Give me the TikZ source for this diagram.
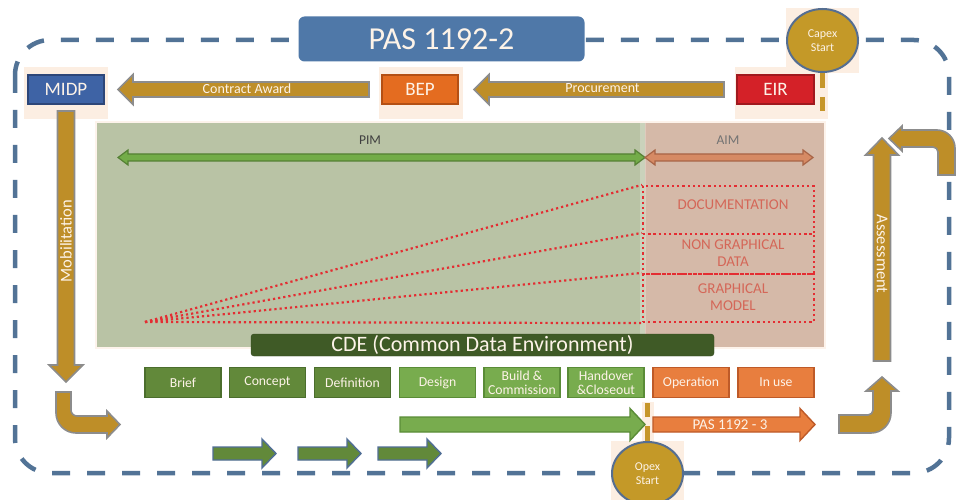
\documentclass[tikz,border=0pt]{standalone}
\usepackage{fontspec}
\setmainfont{Carlito}
\usetikzlibrary{shapes.geometric}

\definecolor{frameblue}{RGB}{82,115,150}
\definecolor{titleblue}{RGB}{79,120,168}
\definecolor{cream}{RGB}{253,243,232}
\definecolor{peach}{RGB}{252,238,226}
\definecolor{gold}{RGB}{190,142,40}
\definecolor{goldline}{RGB}{198,150,42}
\definecolor{arrowgray}{RGB}{140,140,140}
\definecolor{midpblue}{RGB}{62,99,165}
\definecolor{midpedge}{RGB}{45,70,120}
\definecolor{beporange}{RGB}{228,108,32}
\definecolor{bepedge}{RGB}{180,80,20}
\definecolor{eirred}{RGB}{212,33,40}
\definecolor{eiredge}{RGB}{160,25,30}
\definecolor{pimpanel}{RGB}{185,195,165}
\definecolor{aimpanel}{RGB}{213,185,168}
\definecolor{pimgreen}{RGB}{115,172,72}
\definecolor{pimedge}{RGB}{85,128,52}
\definecolor{aimorange}{RGB}{214,138,100}
\definecolor{aimedge}{RGB}{168,100,70}
\definecolor{dotred}{RGB}{228,45,50}
\definecolor{infored}{RGB}{212,103,88}
\definecolor{cdegreen}{RGB}{63,90,38}
\definecolor{stagedark}{RGB}{98,137,58}
\definecolor{stagedarkedge}{RGB}{75,110,45}
\definecolor{stagelight}{RGB}{120,172,78}
\definecolor{stagelightedge}{RGB}{90,140,55}
\definecolor{stageorange}{RGB}{232,126,62}
\definecolor{stageorangeedge}{RGB}{190,90,40}
\definecolor{circlegold}{RGB}{196,153,40}
\definecolor{circleedge}{RGB}{85,110,145}
\definecolor{smallarrowedge}{RGB}{80,110,150}

% horizontal block arrow: style, tail x, head base x, tip x, centre y, half body, half head
\newcommand\hblock[7]{\path[#1] (#2,#5-#6) -- (#3,#5-#6) -- (#3,#5-#7) -- (#4,#5)
  -- (#3,#5+#7) -- (#3,#5+#6) -- (#2,#5+#6) -- cycle;}
% vertical block arrow: style, tail y, head base y, tip y, centre x, half body, half head
\newcommand\vblock[7]{\path[#1] (#5-#6,#2) -- (#5-#6,#3) -- (#5-#7,#3) -- (#5,#4)
  -- (#5+#7,#3) -- (#5+#6,#3) -- (#5+#6,#2) -- cycle;}
% double block arrow: style, left tip, left base, right base, right tip, centre y, half body, half head
\newcommand\dblock[8]{\path[#1] (#2,#6) -- (#3,#6-#8) -- (#3,#6-#7) -- (#4,#6-#7) -- (#4,#6-#8)
  -- (#5,#6) -- (#4,#6+#8) -- (#4,#6+#7) -- (#3,#6+#7) -- (#3,#6+#8) -- cycle;}

\begin{document}
\begin{tikzpicture}[x=1pt,y=-1pt,
  frame/.style={draw=frameblue, line width=4.5pt, dash pattern=on 18pt off 17pt, rounded corners=35pt},
  titlebox/.style={fill=titleblue, rounded corners=6pt, minimum width=286, minimum height=45,
    inner sep=0pt, text=cream, font=\fontsize{32}{36}\selectfont},
  docbox/.style={minimum width=76, minimum height=29, inner sep=0pt, line width=1.2pt,
    text=cream, font=\fontsize{19}{22}\selectfont},
  goldarrow/.style={fill=gold, draw=arrowgray, line width=1.6pt},
  greenarrow/.style={fill=stagelight, draw=stagelightedge, line width=1.4pt},
  orangearrow/.style={fill=stageorange, draw=stageorangeedge, line width=1.4pt},
  smallarrow/.style={fill=stagedark, draw=smallarrowedge, line width=1.4pt},
  arrowlbl/.style={inner sep=0pt, text=cream, font=\fontsize{14}{16}\selectfont},
  stagebox/.style={minimum width=76, minimum height=30, inner sep=0pt, line width=1.2pt,
    align=center, text=cream, font=\fontsize{13.7}{14}\selectfont},
  cell/.style={draw=dotred, line width=2.2pt, dash pattern=on 2.2pt off 3pt, minimum width=171, inner sep=0pt},
  dotline/.style={draw=dotred, line width=2.2pt, dash pattern=on 2.2pt off 3pt},
  infolbl/.style={align=center, inner sep=0pt, text=infored, font=\fontsize{15}{17}\selectfont},
  circ/.style={ellipse, minimum width=71, minimum height=63, inner sep=0pt, fill=circlegold,
    draw=circleedge, line width=2pt, align=center, text=cream, font=\fontsize{12}{14}\selectfont},
  golddash/.style={draw=goldline, line width=5pt, dash pattern=on 15pt off 9pt}
]
\useasboundingbox (0,0) rectangle (962,500);
\clip (0,0) rectangle (962,500);
\fill[white] (0,0) rectangle (962,500);

% pale backdrops behind boxes and milestones
\fill[peach] (24,67) rectangle (108,119);
\fill[peach] (379,67) rectangle (463,119);
\fill[peach] (735,67) rectangle (818,119);
\fill[peach] (786,8) rectangle (859,73);
\fill[peach] (817,72) rectangle (828,119);
\fill[peach] (611,441) rectangle (684,500);
\fill[peach] (642,402) rectangle (654,442);

% dashed life-cycle frame
\draw[frame] (15,40) rectangle (949,473);

% title
\node[titlebox] (title) at (441.5,39) {PAS 1192-2};

% information model panels
\fill[peach!70] (95,121) rectangle (826,349);
\fill[pimpanel] (97,123) rectangle (645,347);
\fill[aimpanel] (645,123) rectangle (824,347);
\fill[white, opacity=0.25] (640,123) rectangle (646,347);

\dblock{fill=pimgreen, draw=pimedge, line width=1.2pt}{118}{128}{635}{645}{157.5}{3.5}{7.5}
\dblock{fill=aimorange, draw=aimedge, line width=1.2pt}{645}{655}{803}{813}{157.5}{3.5}{7.5}
\node[inner sep=0pt, text=black!75, font=\fontsize{13.5}{15}\selectfont] (pim) at (370,140) {PIM};
\node[inner sep=0pt, text=black!55, font=\fontsize{13.5}{15}\selectfont] (aim) at (728,140) {AIM};

% asset information cells
\node[cell, minimum height=48] (doc) at (728.5,210) {};
\node[cell, minimum height=40] (ngd) at (728.5,254) {};
\node[cell, minimum height=48] (gm) at (728.5,298) {};
\node[infolbl] (doclbl) at (733,204.5) {DOCUMENTATION};
\node[infolbl] (ngdlbl) at (733,253.5) {NON GRAPHICAL\\DATA};
\node[infolbl] (gmlbl) at (733,297.5) {GRAPHICAL\\MODEL};
\coordinate (apex) at (145,322);
\draw[dotline] (apex) -- (doc.north west);
\draw[dotline] (apex) -- (ngd.north west);
\draw[dotline] (apex) -- (gm.north west);
\draw[dotline] (apex) -- (gm.south west);

% common data environment
\node[fill=cdegreen, draw=cdegreen!80!black, rounded corners=3pt, minimum width=463, minimum height=22,
  inner sep=0pt, text=cream, font=\fontsize{22}{24}\selectfont] (cde) at (482.5,345) {CDE (Common Data Environment)};

% project stages
\node[stagebox, fill=stagedark, draw=stagedarkedge] (brief) at (183,382.5) {Brief};
\node[stagebox, fill=stagedark, draw=stagedarkedge] (concept) at (267.5,382.5) {Concept};
\node[stagebox, fill=stagedark, draw=stagedarkedge] (definition) at (352.5,382.5) {Definition};
\node[stagebox, fill=stagelight, draw=stagelightedge] (design) at (437.5,382.5) {Design};
\node[stagebox, fill=stagelight, draw=stagelightedge] (build) at (522,382.5) {Build \&\\Commission};
\node[stagebox, fill=stagelight, draw=stagelightedge] (handover) at (606,382.5) {Handover\\\&Closeout};
\node[stagebox, fill=stageorange, draw=stageorangeedge] (operation) at (691,382.5) {Operation};
\node[stagebox, fill=stageorange, draw=stageorangeedge] (inuse) at (776,382.5) {In use};

% delivery arrows
\hblock{greenarrow}{400}{630}{645}{424.5}{7.5}{16}
\hblock{orangearrow}{653}{800}{815}{424.5}{7.5}{16}
\node[arrowlbl, font=\fontsize{15}{17}\selectfont] (pas3) at (730,424.5) {PAS 1192 - 3};
\hblock{smallarrow}{213}{262}{276}{453.5}{6.5}{14.5}
\hblock{smallarrow}{298}{347}{361}{453.5}{6.5}{14.5}
\hblock{smallarrow}{378}{427}{441}{453.5}{6.5}{14.5}

% procurement chain
\hblock{goldarrow}{724}{489}{474}{89.5}{7.5}{15}
\node[arrowlbl] (proc) at (602.5,88.5) {Procurement};
\hblock{goldarrow}{369}{133}{118}{89.5}{7.5}{15}
\node[arrowlbl] (award) at (247,88.5) {Contract Award};

\node[docbox, fill=midpblue, draw=midpedge] (midp) at (66,89.5) {MIDP};
\node[docbox, fill=beporange, draw=bepedge] (bep) at (420,89.5) {BEP};
\node[docbox, fill=eirred, draw=eiredge, minimum width=77] (eir) at (775.5,89.5) {EIR};

% mobilisation and assessment
\vblock{goldarrow}{111}{365}{382}{66}{8.5}{17}
\node[arrowlbl, rotate=90, font=\fontsize{16.5}{18}\selectfont] (mob) at (66,241) {Mobilitation};
\vblock{goldarrow}{361}{155}{138}{882}{8.5}{16.5}
\node[arrowlbl, rotate=-90, font=\fontsize{16.5}{18}\selectfont] (assess) at (882,254) {Assessment};

% bent arrows
\path[goldarrow] (56,392) -- (71,392) -- (71,410) arc[start angle=180, end angle=90, radius=6]
  -- (107,416) -- (107,411) -- (120,424.5) -- (107,438) -- (107,433) -- (76,433)
  arc[start angle=90, end angle=180, radius=20] -- cycle;
\path[goldarrow] (839,415) -- (868,415) arc[start angle=90, end angle=0, radius=5]
  -- (873,391) -- (866,391) -- (882,377) -- (898,391) -- (891,391) -- (891,413)
  arc[start angle=0, end angle=90, radius=20] -- (839,433) -- cycle;
\path[goldarrow] (938,175) -- (938,152) arc[start angle=0, end angle=-90, radius=5]
  -- (902,147) -- (902,151) -- (889,138.5) -- (902,126) -- (902,130) -- (937,130)
  arc[start angle=-90, end angle=0, radius=18] -- (955,175) -- cycle;

% milestones
\node[circ] (capex) at (822.5,40.5) {Capex\\Start};
\coordinate (capexend) at (822.5,111);
\draw[golddash] (capex.south) -- (capexend);
\node[circ] (opex) at (647.5,473.5) {Opex\\Start};
\coordinate (opextop) at (647.5,403);
\draw[golddash] (opex.north) -- (opextop);
\end{tikzpicture}
\end{document}
